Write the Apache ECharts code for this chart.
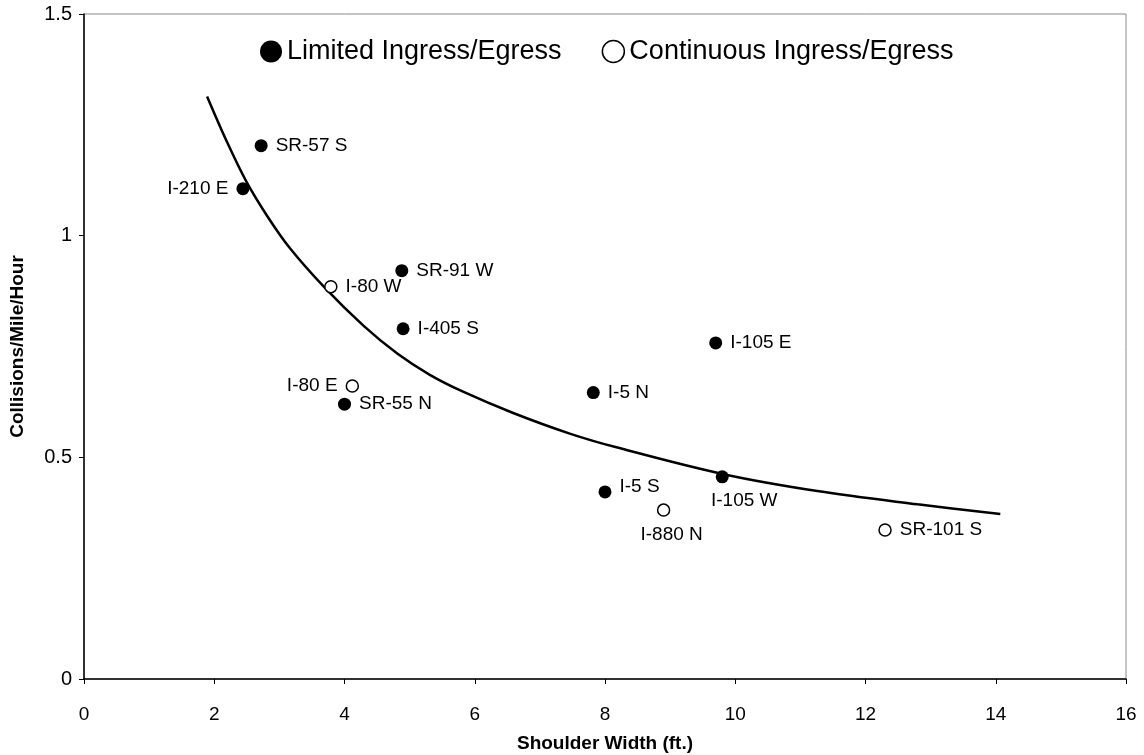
<!DOCTYPE html>
<html><head><meta charset="utf-8">
<script src="https://cdn.jsdelivr.net/npm/echarts@6/dist/echarts.min.js"></script>
<style>html,body{margin:0;padding:0;background:#fff}#c{width:1144px;height:755px}</style>
</head><body><div id="c"></div>
<script>
// Limited ingress/egress sites
const limitedNames = ['SR-57 S','I-210 E','SR-91 W','I-405 S','SR-55 N','I-5 N','I-105 E','I-105 W','I-5 S'];
const limitedX     = [2.72, 2.44, 4.88, 4.90, 4.00, 7.82, 9.70, 9.80, 8.00];
const limitedY     = [1.203, 1.106, 0.921, 0.79, 0.62, 0.646, 0.758, 0.456, 0.422];
const limitedPos   = ['right','left','right','right','right','right','right','bottom','right'];

// Continuous ingress/egress sites
const contNames = ['I-80 W','I-80 E','I-880 N','SR-101 S'];
const contX     = [3.79, 4.12, 8.90, 12.30];
const contY     = [0.885, 0.661, 0.381, 0.336];
const contPos   = ['right','left','bottom','right'];

// Trend curve
const curveX = [1.89, 2.2, 2.5, 2.81, 3.16, 3.7, 4.29, 4.81, 5.31, 5.82, 6.59, 7.47, 8.19, 9.82, 11.26, 12.8, 14.07];
const curveY = [1.314, 1.21, 1.12, 1.045, 0.972, 0.882, 0.797, 0.734, 0.686, 0.648, 0.600, 0.553, 0.522, 0.462, 0.424, 0.394, 0.372];

const F = 'Liberation Sans, Arial, sans-serif';

function pts(xs, ys, names, pos){
  return xs.map((x,i)=>({value:[x, ys[i]], name:names[i], label:{position:pos[i]}}));
}
const limData = pts(limitedX, limitedY, limitedNames, limitedPos);
limData[7].label.offset = [22, 0];   // I-105 W
limData[8].label.offset = [0, -5];   // I-5 S
const contData = pts(contX, contY, contNames, contPos);
contData[2].label.offset = [8, 0];   // I-880 N

const chart = echarts.init(document.getElementById('c'), null, {renderer:'canvas'});
chart.setOption({
  animation:false,
  backgroundColor:'#fff',
  grid:{left:84, right:18, top:14, bottom:76, outerBoundsMode:'none', containLabel:false,
        show:true, borderColor:'#888', borderWidth:1},
  legend:{
    top:33, left:255, itemGap:40, itemWidth:22, itemHeight:22,
    textStyle:{fontFamily:F, fontSize:27, color:'#000'},
    data:[
      {name:'Limited Ingress/Egress', icon:'circle', itemStyle:{color:'#000', borderColor:'#000'}},
      {name:'Continuous Ingress/Egress', icon:'circle', itemStyle:{color:'#fff', borderColor:'#000', borderWidth:1.5}}
    ]
  },
  xAxis:{
    type:'value', min:0, max:16, interval:2,
    name:'Shoulder Width (ft.)', nameLocation:'middle', nameGap:55,
    nameTextStyle:{fontFamily:F, fontSize:19, fontWeight:'bold', color:'#000'},
    axisLine:{show:true, lineStyle:{color:'#000', width:1.5}},
    axisTick:{show:true, length:5, lineStyle:{color:'#000'}},
    axisLabel:{fontFamily:F, fontSize:19, color:'#000', margin:26},
    splitLine:{show:false}
  },
  yAxis:{
    type:'value', min:0, max:1.5, interval:0.5,
    name:'Collisions/Mile/Hour', nameLocation:'middle', nameGap:57,
    nameTextStyle:{fontFamily:F, fontSize:19, fontWeight:'bold', color:'#000'},
    axisLine:{show:true, lineStyle:{color:'#000', width:1.5}},
    axisTick:{show:true, length:5, lineStyle:{color:'#000'}},
    axisLabel:{fontFamily:F, fontSize:20, color:'#000', margin:12, formatter:v=>String(v)},
    splitLine:{show:false}
  },
  series:[
    {
      name:'Trend', type:'line', smooth:0.35, showSymbol:false, silent:true,
      data:curveX.map((x,i)=>[x, curveY[i]]),
      lineStyle:{color:'#000', width:2.5}, z:1
    },
    {
      name:'Limited Ingress/Egress', type:'scatter', symbol:'circle', symbolSize:13,
      itemStyle:{color:'#000', opacity:1},
      label:{show:true, formatter:p=>p.name, fontFamily:F, fontSize:19, color:'#000', distance:8},
      data:limData, z:3
    },
    {
      name:'Continuous Ingress/Egress', type:'scatter', symbol:'circle', symbolSize:12,
      itemStyle:{color:'#fff', borderColor:'#000', borderWidth:1.5, opacity:1},
      label:{show:true, formatter:p=>p.name, fontFamily:F, fontSize:19, color:'#000', distance:8},
      data:contData, z:3
    }
  ]
});
</script></body></html>
